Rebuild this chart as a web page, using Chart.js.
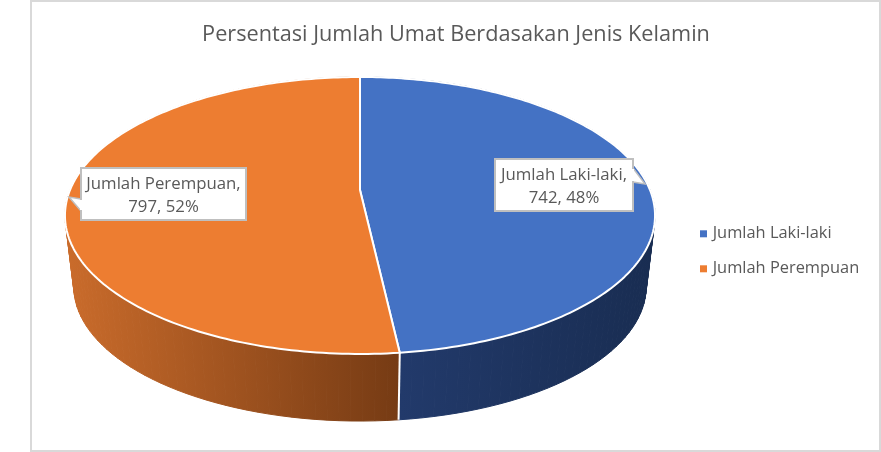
<!DOCTYPE html>
<html>
<head>
<meta charset="utf-8">
<title>Persentasi Jumlah Umat</title>
<script src="https://cdn.jsdelivr.net/npm/chart.js@4/dist/chart.umd.js"></script>
<style>
  body { margin: 0; background: #fff; }
  canvas { display: block; }
</style>
</head>
<body>
<canvas id="pie" width="881" height="452"></canvas>
<script>
const chartTitle = 'Persentasi Jumlah Umat Berdasakan Jenis Kelamin';
const categories = ['Jumlah Laki-laki', 'Jumlah Perempuan'];
const jumlah = [742, 797];
const persen = [48, 52];
const warna = ['#4472C4', '#ED7D31'];
const wallLeft = ['#223A6B', '#C96B2B'];
const wallRight = ['#192D52', '#763B14'];

const FONT = '"Open Sans", "Noto Sans", sans-serif';
const GREY = '#595959';

// perspective of the pie, excel style 3D
const view = { cx: 360, cy: 190, rx: 290, ry: 133.8, k: 0.184, depth: 72, shrink: 0.97, steps: 180 };

function project(angle, low) {
  const u = Math.cos(angle), v = Math.sin(angle);
  const w = 1 - view.k * v;
  const s = low ? view.shrink : 1;
  return {
    x: view.cx + s * view.rx * u / w,
    y: view.cy + (low ? view.depth : 0) + s * view.ry * v / w
  };
}

class Pie3DController extends Chart.PieController {
  draw() {
    const ctx = this.chart.ctx;
    const arcs = this.getMeta().data;
    const colors = this.getDataset().backgroundColor;

    // side wall
    arcs.forEach((arc, i) => {
      const grad = ctx.createLinearGradient(i === 0 ? 399 : 70, 0, i === 0 ? 650 : 399, 0);
      grad.addColorStop(0, wallLeft[i]);
      grad.addColorStop(1, wallRight[i]);
      ctx.fillStyle = grad;
      ctx.strokeStyle = grad;
      ctx.lineWidth = 1;
      const n = Math.ceil((arc.endAngle - arc.startAngle) / (2 * Math.PI) * view.steps);
      for (let j = 0; j < n; j++) {
        const a0 = arc.startAngle + (arc.endAngle - arc.startAngle) * j / n;
        const a1 = arc.startAngle + (arc.endAngle - arc.startAngle) * (j + 1) / n;
        const p = [project(a0), project(a1), project(a1, true), project(a0, true)];
        ctx.beginPath();
        p.forEach((q, m) => m ? ctx.lineTo(q.x, q.y) : ctx.moveTo(q.x, q.y));
        ctx.closePath();
        ctx.fill();
        ctx.stroke();
      }
    });

    // white seam on the wall
    ctx.strokeStyle = '#fff';
    ctx.lineWidth = 2;
    arcs.forEach(arc => {
      if (Math.sin(arc.endAngle) > 0) {
        const a = project(arc.endAngle), b = project(arc.endAngle, true);
        ctx.beginPath();
        ctx.moveTo(a.x, a.y);
        ctx.lineTo(b.x, b.y);
        ctx.stroke();
      }
    });

    // top face
    arcs.forEach((arc, i) => {
      ctx.beginPath();
      ctx.moveTo(view.cx, view.cy);
      for (let j = 0; j <= view.steps; j++) {
        const q = project(arc.startAngle + (arc.endAngle - arc.startAngle) * j / view.steps);
        ctx.lineTo(q.x, q.y);
      }
      ctx.closePath();
      ctx.fillStyle = colors[i];
      ctx.fill();
      ctx.strokeStyle = '#fff';
      ctx.lineWidth = 2;
      ctx.lineJoin = 'round';
      ctx.stroke();
    });
  }
}
Pie3DController.id = 'pie3d';
Pie3DController.defaults = Chart.PieController.defaults;
Pie3DController.overrides = Chart.PieController.overrides;
Chart.register(Pie3DController);

// the white boxes with a little pointer
const callouts = [
  { box: [495, 159, 138, 52], tip: [645, 184], base: [[633, 168], [633, 182]] },
  { box: [81, 168, 165, 52], tip: [69, 197], base: [[81, 199], [81, 211]] }
];

const calloutPlugin = {
  id: 'callouts',
  afterDatasetsDraw(chart) {
    const ctx = chart.ctx;
    callouts.forEach((c, i) => {
      const [x, y, w, h] = c.box;
      ctx.fillStyle = '#fff';
      ctx.strokeStyle = '#BFBFBF';
      ctx.lineJoin = 'miter';
      ctx.lineWidth = 1.5;
      ctx.beginPath();
      ctx.moveTo(c.base[0][0], c.base[0][1]);
      ctx.lineTo(c.tip[0], c.tip[1]);
      ctx.lineTo(c.base[1][0], c.base[1][1]);
      ctx.closePath();
      ctx.fill();
      ctx.stroke();
      ctx.lineWidth = 2;
      ctx.beginPath();
      ctx.rect(x, y, w, h);
      ctx.fill();
      ctx.stroke();
      // hide the box side under the pointer
      ctx.beginPath();
      ctx.moveTo(c.base[0][0], c.base[0][1] + 1);
      ctx.lineTo(c.base[1][0], c.base[1][1] - 1);
      ctx.strokeStyle = '#fff';
      ctx.lineWidth = 2;
      ctx.stroke();

      ctx.fillStyle = GREY;
      ctx.font = '16.8px ' + FONT;
      ctx.textAlign = 'center';
      ctx.textBaseline = 'middle';
      ctx.fillText(categories[i] + ',', x + w / 2, y + 16);
      ctx.fillText(jumlah[i] + ', ' + persen[i] + '%', x + w / 2, y + 39);
    });
  }
};

const framePlugin = {
  id: 'frame',
  beforeDraw(chart) {
    const ctx = chart.ctx;
    ctx.save();
    ctx.fillStyle = '#fff';
    ctx.fillRect(0, 0, chart.width, chart.height);
    ctx.strokeStyle = '#D9D9D9';
    ctx.lineWidth = 2;
    ctx.strokeRect(31, 1, 849, 450);
    ctx.restore();
  },
  afterLayout(chart) {
    const l = chart.legend;
    l.left = 683.9;
    l.top = 207;
  }
};

new Chart(document.getElementById('pie'), {
  type: 'pie3d',
  data: {
    labels: categories,
    datasets: [{ data: jumlah, backgroundColor: warna, borderWidth: 0 }]
  },
  options: {
    responsive: false,
    animation: false,
    layout: { padding: { left: 31, right: 0, top: 0, bottom: 0 } },
    plugins: {
      title: {
        display: true,
        text: chartTitle,
        color: GREY,
        font: { family: FONT, size: 21.7, weight: 'normal' },
        padding: { top: 22, bottom: 10 }
      },
      legend: {
        display: true,
        position: 'right',
        align: 'start',
        labels: {
          color: GREY,
          font: { family: FONT, size: 16.4 },
          usePointStyle: true,
          pointStyle: 'rect',
          boxWidth: 2,
          boxHeight: 7,
          padding: 18.6
        }
      },
      tooltip: { enabled: false }
    }
  },
  plugins: [framePlugin, calloutPlugin]
});
</script>
</body>
</html>
